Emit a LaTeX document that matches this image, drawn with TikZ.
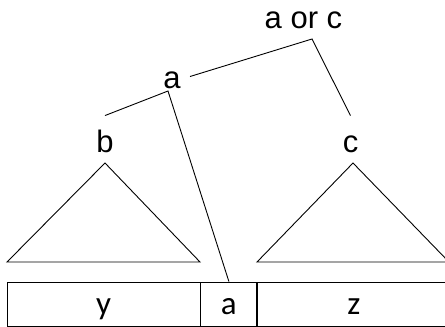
\documentclass[tikz,border=0pt]{standalone}
\usepackage{fontspec}
\setmainfont{Liberation Sans}
\newfontfamily\cellfont{Carlito}
\usetikzlibrary{positioning}

\begin{document}
\begin{tikzpicture}[x=1pt,y=-1pt,line width=0.9pt,
 lbl/.style={anchor=base,font=\fontsize{31}{37}\selectfont,text height=23pt,text depth=0pt,inner xsep=9pt,inner ysep=13pt},
 cell/.style={draw,line width=0.9pt,minimum height=44pt,inner sep=0pt,font=\cellfont\fontsize{33}{40}\selectfont,text height=20pt,text depth=0pt},
 tri/.style={draw,line width=0.9pt}]
\useasboundingbox (0,0) rectangle (445,327);
\clip (0,0) rectangle (445,327);
% labels of the tree
\node[lbl] (aorc) at (303.5,28) {a or c};
\node[lbl] (a) at (172,88) {a};
\node[lbl] (b) at (105,152) {b};
\node[lbl] (c) at (350.5,152) {c};
\coordinate (orj) at (312,39);
\coordinate (aj) at (168,91);
% subtrees
\draw[tri] (105,163) -- (7,262) -- (200,262) -- cycle;
\draw[tri] (353,163) -- (257,262) -- (449,262) -- cycle;
% string
\node[cell,minimum width=193pt] (cy) at (103.5,304) {y};
\node[cell,minimum width=56pt,right=0pt of cy] (ca) {a};
\node[cell,minimum width=192pt,right=0pt of ca] (cz) {z};
% branches
\draw (a.east) -- (orj) -- (c.north);
\draw (b.north) -- (aj) -- (ca.north);
\end{tikzpicture}
\end{document}
